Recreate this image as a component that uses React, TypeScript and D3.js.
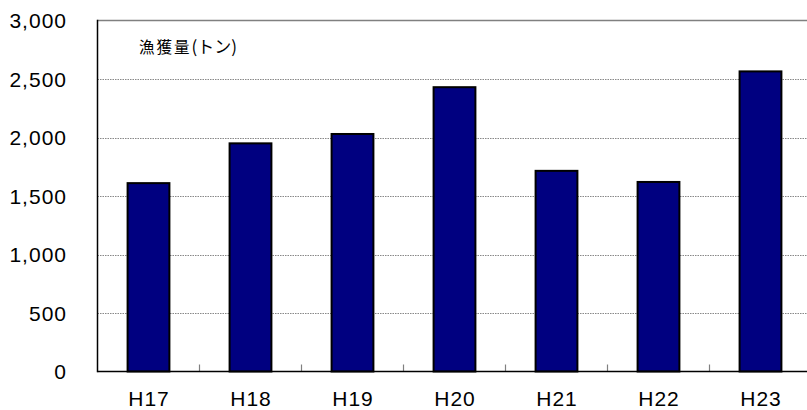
import * as d3 from "d3";
import { useEffect, useRef } from "react";

const WIDTH = 807;
const HEIGHT = 410;

const categories = ["H17", "H18", "H19", "H20", "H21", "H22", "H23"];
const catch_tons = [1610, 1950, 2030, 2430, 1715, 1620, 2565];
const yTicks = [0, 500, 1000, 1500, 2000, 2500, 3000];
const titleMain = "漁獲量";
const titleUnit = "(トン)";

export default function App() {
    const svgRef = useRef<SVGSVGElement | null>(null);

    useEffect(() => {
        if (!svgRef.current) return;
        const svg = d3.select(svgRef.current);
        svg.selectAll("*").remove();

        const margin = { top: 20.5, left: 97.5, bottom: 371.5, right: 811.5 };
        const font = "'Liberation Sans', Arial, 'Noto Sans CJK JP', sans-serif";

        const x = d3
            .scaleBand<string>()
            .domain(categories)
            .range([margin.left, margin.right])
            .paddingInner(0.59)
            .paddingOuter(0.295);
        const y = d3.scaleLinear().domain([0, 3000]).range([margin.bottom, margin.top]);

        // gridlines
        svg.append("g")
            .selectAll("line")
            .data(yTicks.filter((t) => t > 0 && t < 3000))
            .enter()
            .append("line")
            .attr("x1", margin.left)
            .attr("x2", WIDTH)
            .attr("y1", (d) => Math.round(y(d)) + 0.5)
            .attr("y2", (d) => Math.round(y(d)) + 0.5)
            .attr("stroke", "#888")
            .attr("stroke-width", 1)
            .attr("stroke-dasharray", "1.5,1");

        // top frame line
        svg.append("line")
            .attr("x1", margin.left)
            .attr("x2", WIDTH)
            .attr("y1", y(3000))
            .attr("y2", y(3000))
            .attr("stroke", "#808080")
            .attr("stroke-width", 1.5);

        // bars
        svg.append("g")
            .selectAll("rect")
            .data(categories)
            .enter()
            .append("rect")
            .attr("x", (d) => x(d) ?? 0)
            .attr("width", x.bandwidth())
            .attr("y", (_, i) => y(catch_tons[i]))
            .attr("height", (_, i) => y(0) - y(catch_tons[i]))
            .attr("fill", "#000080")
            .attr("stroke", "#000")
            .attr("stroke-width", 2);

        // category boundary ticks (inside)
        const step = x.step();
        svg.append("g")
            .selectAll("line")
            .data(categories.slice(1))
            .enter()
            .append("line")
            .attr("x1", (d) => (x(d) ?? 0) - (step - x.bandwidth()) / 2)
            .attr("x2", (d) => (x(d) ?? 0) - (step - x.bandwidth()) / 2)
            .attr("y1", y(0) - 7)
            .attr("y2", y(0))
            .attr("stroke", "#808080")
            .attr("stroke-width", 1.2);

        // axes lines
        svg.append("line")
            .attr("x1", margin.left)
            .attr("x2", WIDTH)
            .attr("y1", y(0))
            .attr("y2", y(0))
            .attr("stroke", "#000")
            .attr("stroke-width", 1.5);
        svg.append("line")
            .attr("x1", margin.left)
            .attr("x2", margin.left)
            .attr("y1", y(3000) - 0.75)
            .attr("y2", y(0) + 0.75)
            .attr("stroke", "#000")
            .attr("stroke-width", 1.5);

        // y labels
        svg.append("g")
            .selectAll("text")
            .data(yTicks)
            .enter()
            .append("text")
            .attr("x", 67)
            .attr("y", (d) => y(d))
            .attr("dy", "0.36em")
            .attr("text-anchor", "end")
            .attr("font-family", font)
            .attr("font-size", 21)
            .attr("letter-spacing", 1)
            .attr("fill", "#000")
            .text((d) => d3.format(",")(d));

        // x labels
        svg.append("g")
            .selectAll("text")
            .data(categories)
            .enter()
            .append("text")
            .attr("x", (d) => (x(d) ?? 0) + x.bandwidth() / 2 + 0.5)
            .attr("y", 406)
            .attr("text-anchor", "middle")
            .attr("font-family", font)
            .attr("font-size", 21)
            .attr("letter-spacing", 1)
            .attr("fill", "#000")
            .text((d) => d);

        const t = svg
            .append("text")
            .attr("x", 139)
            .attr("y", 53)
            .attr("font-family", "'Noto Sans CJK JP', sans-serif")
            .attr("font-size", 15.5)
            .attr("fill", "#000");
        t.append("tspan").attr("letter-spacing", 2).text(titleMain);
        t.append("tspan").attr("font-size", 17).text(titleUnit);
    }, []);

    return (
        <svg
            ref={svgRef}
            width={WIDTH}
            height={HEIGHT}
            style={{ position: "fixed", left: 0, top: 0, background: "#fff" }}
        />
    );
}
